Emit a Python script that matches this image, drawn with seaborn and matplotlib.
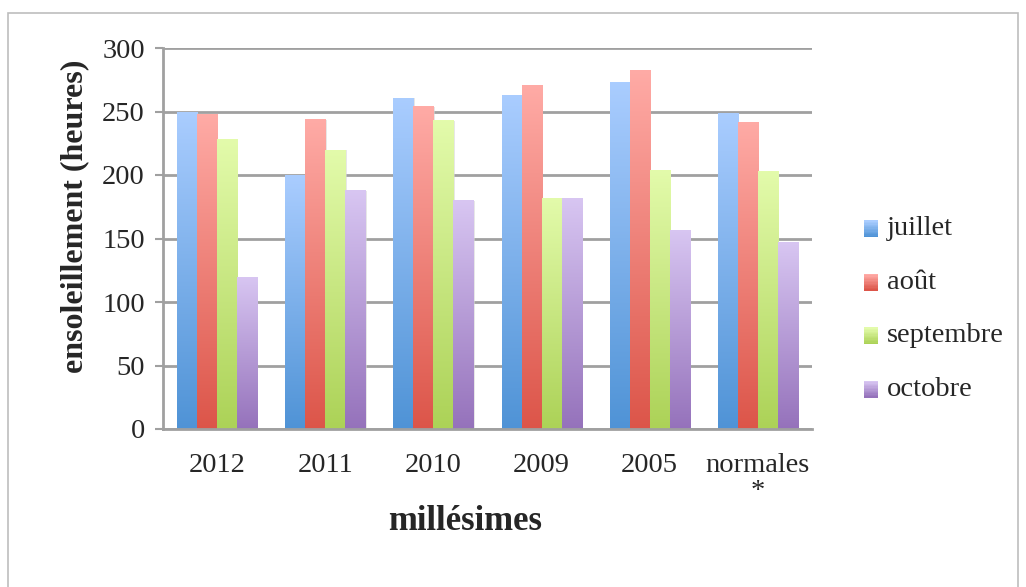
import numpy as np
import pandas as pd
import matplotlib
matplotlib.use("Agg")
import matplotlib.pyplot as plt
import matplotlib.patches as mpatches
from matplotlib.colors import LinearSegmentedColormap
from matplotlib.legend_handler import HandlerBase
import seaborn as sns

# Sunshine hours per vintage and month
millesimes = ["2012", "2011", "2010", "2009", "2005", "normales\n*"]
mois = ["juillet", "août", "septembre", "octobre"]
juillet = [250, 200, 261, 263, 273, 249]
aout = [248, 244, 254, 271, 283, 242]
septembre = [228, 220, 243, 182, 204, 203]
octobre = [120, 188, 180, 182, 157, 147]

# (light top, dark bottom) gradient colours for each month
grad_colors = {
    "juillet": ("#aacdff", "#4f93d6"),
    "août": ("#ffaba6", "#dc5549"),
    "septembre": ("#e3fbab", "#acd257"),
    "octobre": ("#d8c6f2", "#9572bb"),
}

df = pd.DataFrame({
    "millesime": millesimes * 4,
    "mois": [m for m in mois for _ in millesimes],
    "heures": juillet + aout + septembre + octobre,
})

sns.set_theme(style="white")
plt.rcParams["font.family"] = ["Liberation Serif", "DejaVu Serif"]

fig = plt.figure(figsize=(10.26, 5.87), dpi=100)
ax = fig.add_axes([163 / 1026, 1 - 429 / 587, (812 - 163) / 1026, (429 - 48) / 587])

palette = {m: grad_colors[m][1] for m in mois}
sns.barplot(data=df, x="millesime", y="heures", hue="mois", hue_order=mois,
            order=millesimes, palette=palette, width=0.74, gap=0,
            saturation=1, ax=ax, legend=False, zorder=3)

ax.set_yticks(range(0, 301, 50))
ax.yaxis.grid(True, color="#a0a0a0", linewidth=2, zorder=0)
ax.set_axisbelow(True)

grad = np.linspace(1, 0, 256).reshape(-1, 1)
cmaps = {m: LinearSegmentedColormap.from_list(m, [grad_colors[m][1], grad_colors[m][0]])
         for m in mois}

# Vertical gradient fill for every bar, with a soft shadow on the right
for i, m in enumerate(mois):
    for bar in ax.containers[i]:
        x0, y0 = bar.get_x(), bar.get_y()
        w, h = bar.get_width(), bar.get_height()
        shadow = mpatches.Rectangle((x0 + 0.012, y0), w, h - 0.6,
                                    facecolor="#d8d8d8", edgecolor="none",
                                    alpha=0.6, zorder=2.5)
        ax.add_patch(shadow)
        bar.set_facecolor("none")
        bar.set_edgecolor("none")
        im = ax.imshow(grad, cmap=cmaps[m], aspect="auto", vmin=0, vmax=1,
                       extent=(x0, x0 + w, y0, y0 + h), zorder=3,
                       interpolation="bilinear")
        im.set_clip_path(bar)

ax.set_xlim(-0.5, len(millesimes) - 0.5)
ax.set_ylim(0, 300)

for side in ["top", "right"]:
    ax.spines[side].set_visible(False)
for side in ["left", "bottom"]:
    ax.spines[side].set_color("#a0a0a0")
    ax.spines[side].set_linewidth(2)
ax.spines["bottom"].set_zorder(4)

ax.tick_params(axis="y", which="both", left=True, length=6, width=1.5,
               color="#a0a0a0", labelsize=20.5, pad=7)
ax.tick_params(axis="x", bottom=False, labelsize=20.5, pad=11)
for lbl in ax.get_xticklabels():
    lbl.set_linespacing(1.05)

ax.set_xlabel("millésimes", fontsize=25, fontweight="bold")
ax.set_ylabel("ensoleillement (heures)", fontsize=23, fontweight="bold")
ax.xaxis.set_label_coords((465 - 163) / 649, -(505 - 429) / 381)
ax.yaxis.set_label_coords((89 - 163) / 649, (429 - 216) / 381)


class GradientHandler(HandlerBase):
    """Legend swatch drawn as a small vertical gradient square."""

    def create_artists(self, legend, orig_handle, xdescent, ydescent,
                       width, height, fontsize, trans):
        cmap = orig_handle.cmap
        n = 12
        artists = []
        for k in range(n):
            r = mpatches.Rectangle((xdescent, ydescent + height * k / n),
                                   width, height / n + 0.2,
                                   facecolor=cmap(k / (n - 1)), edgecolor="none",
                                   transform=trans)
            artists.append(r)
        return artists


class GradientKey:
    def __init__(self, cmap):
        self.cmap = cmap


handles = [GradientKey(cmaps[m]) for m in mois]
leg = fig.legend(handles, mois, loc="center left",
                 bbox_to_anchor=(838 / 1026, 1 - 309 / 587), frameon=False,
                 fontsize=20.5, handlelength=0.52, handleheight=0.52,
                 handletextpad=0.3, labelspacing=1.0,
                 handler_map={GradientKey: GradientHandler()})

# Outer chart frame
frame = mpatches.Rectangle((8 / 1026, -0.01), 1010 / 1026, 1 - 13 / 587 + 0.01,
                           transform=fig.transFigure, fill=False,
                           edgecolor="#bdbdbd", linewidth=1.2)
fig.add_artist(frame)

fig.savefig("out.png", dpi=100)
